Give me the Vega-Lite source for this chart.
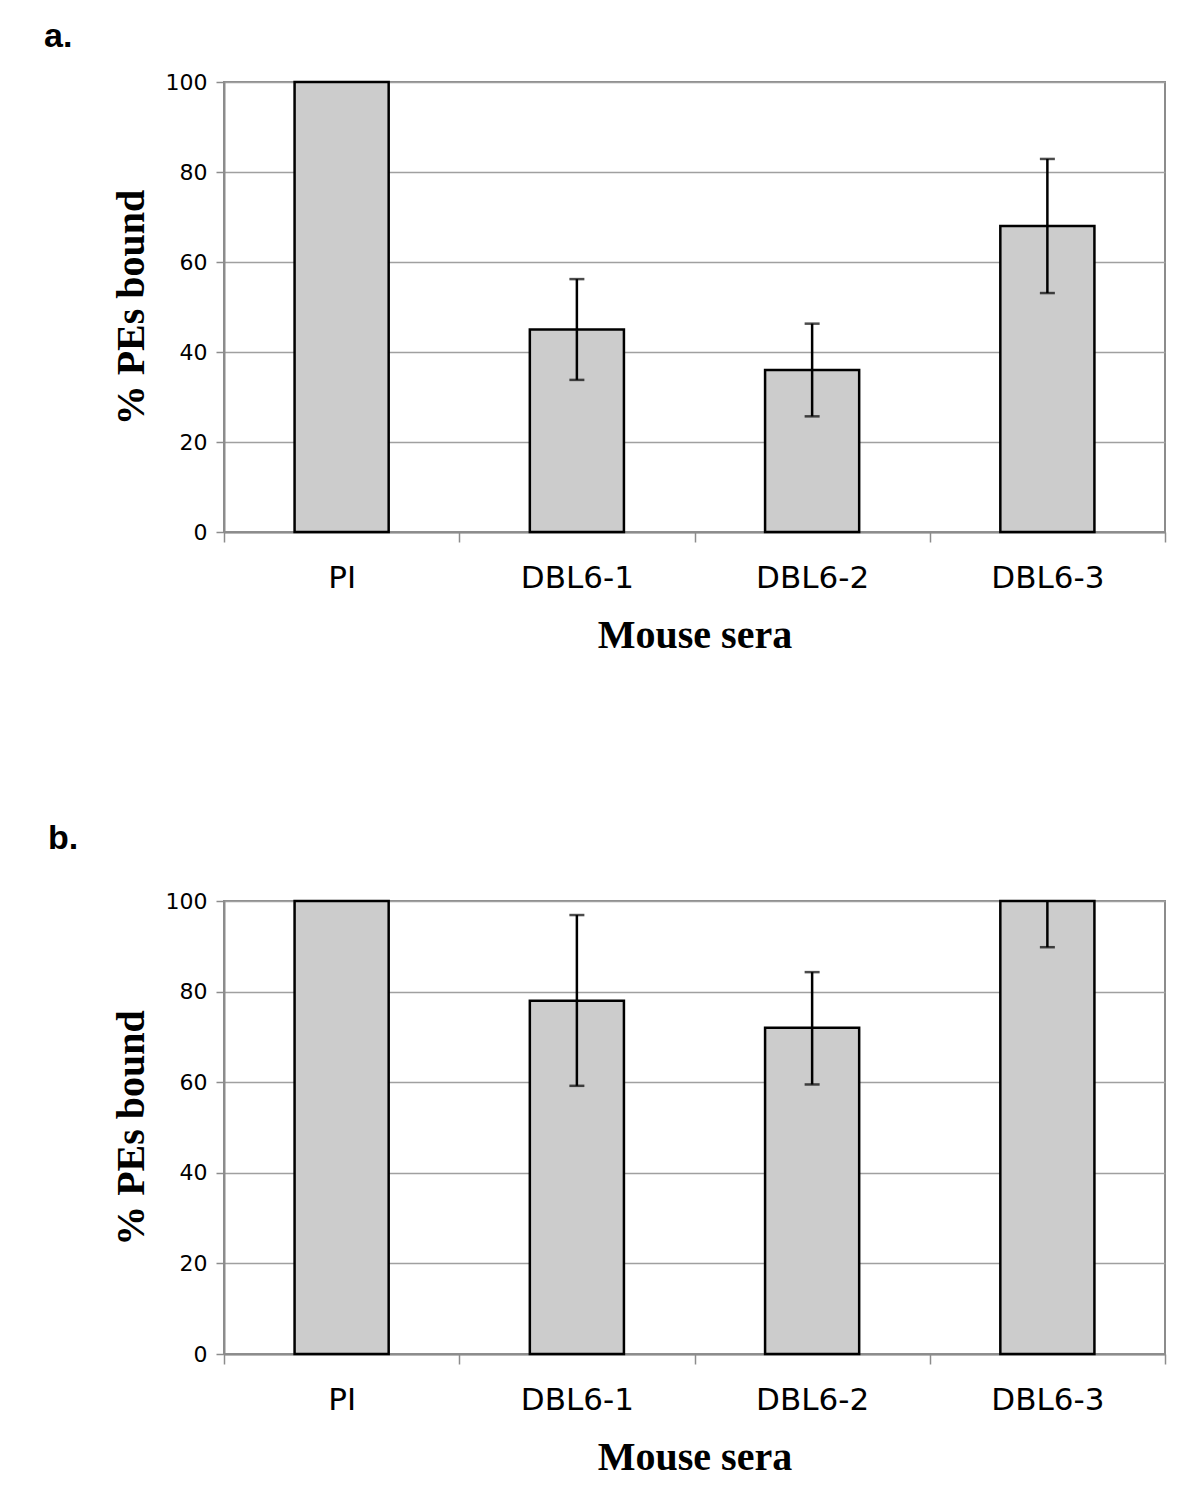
{
  "$schema": "https://vega.github.io/schema/vega-lite/v6.json",
  "autosize": {"type": "pad"},
  "padding": {"left": 43, "top": 19, "right": 34, "bottom": 20},
  "background": "white",
  "bounds": "flush",
  "spacing": 369,
  "datasets": {
    "a": [
      {"sera": "PI", "value": 100, "lo": null, "hi": null},
      {"sera": "DBL6-1", "value": 45, "lo": 33.8, "hi": 56.2},
      {"sera": "DBL6-2", "value": 36, "lo": 25.7, "hi": 46.3},
      {"sera": "DBL6-3", "value": 68, "lo": 53.1, "hi": 82.9}
    ],
    "b": [
      {"sera": "PI", "value": 100, "lo": null, "hi": null},
      {"sera": "DBL6-1", "value": 78, "lo": 59.2, "hi": 96.9},
      {"sera": "DBL6-2", "value": 72, "lo": 59.5, "hi": 84.3},
      {"sera": "DBL6-3", "value": 100, "lo": 89.8, "hi": 110.2}
    ]
  },
  "vconcat": [
    {
      "title": {"text": "a.", "font": "Liberation Sans", "fontWeight": "bold", "fontSize": 34, "anchor": "start", "frame": "group", "dx": -180, "baseline": "alphabetic", "offset": -10, "color": "black"},
      "width": 941,
      "height": 450,
      "data": {"name": "a"},
      "encoding": {
        "x": {"field": "sera", "type": "nominal", "sort": null,
          "scale": {"paddingInner": 0, "paddingOuter": 0},
          "axis": {"title": "Mouse sera"}}
      },
      "layer": [
        {"mark": {"type": "bar", "fill": "#cccccc", "stroke": "black", "strokeWidth": 2.5, "width": {"band": 0.4}},
         "encoding": {"y": {"field": "value", "type": "quantitative", "scale": {"domain": [0, 100], "nice": false}, "axis": {"title": "% PEs bound", "values": [0, 20, 40, 60, 80, 100]}}}},
        {"mark": {"type": "rule", "color": "black", "strokeWidth": 2.5, "clip": true},
         "encoding": {"y": {"field": "lo", "type": "quantitative"}, "y2": {"field": "hi"}}},
        {"mark": {"type": "tick", "color": "black", "thickness": 2.5, "size": 15, "clip": true},
         "encoding": {"y": {"field": "lo", "type": "quantitative"}}},
        {"mark": {"type": "tick", "color": "black", "thickness": 2.5, "size": 15, "clip": true},
         "encoding": {"y": {"field": "hi", "type": "quantitative"}}}
      ]
    },
    {
      "title": {"text": "b.", "font": "Liberation Sans", "fontWeight": "bold", "fontSize": 34, "anchor": "start", "frame": "group", "dx": -176, "baseline": "alphabetic", "offset": 7, "color": "black"},
      "width": 941,
      "height": 453,
      "data": {"name": "b"},
      "encoding": {
        "x": {"field": "sera", "type": "nominal", "sort": null,
          "scale": {"paddingInner": 0, "paddingOuter": 0},
          "axis": {"title": "Mouse sera"}}
      },
      "layer": [
        {"mark": {"type": "bar", "fill": "#cccccc", "stroke": "black", "strokeWidth": 2.5, "width": {"band": 0.4}},
         "encoding": {"y": {"field": "value", "type": "quantitative", "scale": {"domain": [0, 100], "nice": false}, "axis": {"title": "% PEs bound", "values": [0, 20, 40, 60, 80, 100]}}}},
        {"mark": {"type": "rule", "color": "black", "strokeWidth": 2.5, "clip": true},
         "encoding": {"y": {"field": "lo", "type": "quantitative"}, "y2": {"field": "hi"}}},
        {"mark": {"type": "tick", "color": "black", "thickness": 2.5, "size": 15, "clip": true},
         "encoding": {"y": {"field": "lo", "type": "quantitative"}}},
        {"mark": {"type": "tick", "color": "black", "thickness": 2.5, "size": 15, "clip": true},
         "encoding": {"y": {"field": "hi", "type": "quantitative"}}}
      ]
    }
  ],
  "config": {
    "view": {"stroke": "#8c8c8c", "strokeWidth": 2},
    "axis": {
      "domainColor": "#8c8c8c", "domainWidth": 2, "tickColor": "#8c8c8c", "tickWidth": 1.5,
      "labelColor": "black", "labelFont": "DejaVu Sans",
      "titleFont": "Liberation Serif", "titleFontWeight": "bold", "titleFontSize": 40, "titleColor": "black"
    },
    "axisX": {"grid": false, "tickBand": "extent", "tickSize": 10, "labelFontSize": 31, "labelPadding": 21, "labelAngle": 0, "titlePadding": 22},
    "axisY": {"grid": true, "gridColor": "#a0a0a0", "gridWidth": 1.5, "tickSize": 8, "labelFontSize": 22, "labelPadding": 9, "titlePadding": 14}
  }
}
